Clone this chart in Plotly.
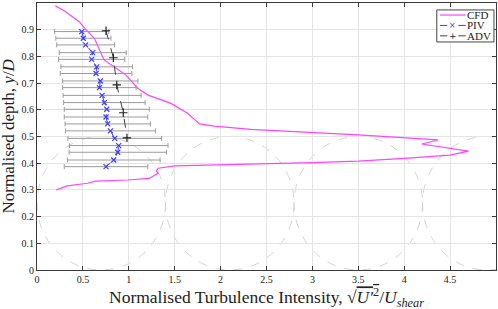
import plotly.graph_objects as go

# CFD profile
cfd_x = [0.20, 0.30, 0.46, 0.52, 0.625, 0.68, 0.73, 0.84, 0.97, 1.10, 1.21, 1.46, 1.64, 1.77, 1.93, 2.33,
         3.50, 4.37, 4.19, 4.70, 4.50, 4.00, 3.50, 3.00, 2.50, 2.33, 1.50, 1.32, 1.30, 1.32, 1.22, 0.99,
         0.64, 0.55, 0.33, 0.21]
cfd_y = [0.99, 0.97, 0.93, 0.905, 0.868, 0.824, 0.787, 0.761, 0.73, 0.68, 0.655, 0.624, 0.587, 0.547,
         0.539, 0.527, 0.506, 0.487, 0.472, 0.445, 0.43, 0.418, 0.408, 0.402, 0.398, 0.397, 0.39, 0.381,
         0.372, 0.362, 0.343, 0.337, 0.333, 0.325, 0.315, 0.30]

# PIV profile with error bars
piv_x = [0.487, 0.505, 0.53, 0.607, 0.596, 0.65, 0.643, 0.69, 0.68, 0.709, 0.734, 0.76, 0.752, 0.77,
         0.80, 0.847, 0.89, 0.88, 0.836, 0.752]
piv_y = [0.893, 0.868, 0.843, 0.814, 0.789, 0.761, 0.736, 0.708, 0.683, 0.654, 0.627, 0.602, 0.573,
         0.547, 0.521, 0.493, 0.466, 0.441, 0.412, 0.387]
piv_err = [0.295, 0.30, 0.315, 0.365, 0.36, 0.39, 0.39, 0.41, 0.40, 0.425, 0.444, 0.463, 0.455, 0.465,
           0.49, 0.51, 0.537, 0.53, 0.505, 0.455]

# ADV profile
adv_x = [0.752, 0.832, 0.869, 0.94, 0.98]
adv_y = [0.896, 0.795, 0.693, 0.589, 0.495]

# Cylinder outlines (dashed circles), centres along x
circle_cx = [0.7, 2.1, 3.5, 4.9]
circle_r_x = 0.7
circle_cy = 0.25
circle_r_y = 0.25

x_ticks = [0, 0.5, 1, 1.5, 2, 2.5, 3, 3.5, 4, 4.5, 5]
y_ticks = [0, 0.1, 0.2, 0.3, 0.4, 0.5, 0.6, 0.7, 0.8, 0.9, 1]

legend_names = ["CFD", "PIV", "ADV"]

FONT = "Liberation Serif"
CFD_C = "#ff44ff"
PIV_C = "#3c3cff"
ADV_C = "#222222"

fig = go.Figure()

for cx in circle_cx:
    fig.add_shape(type="circle", xref="x", yref="y",
                  x0=cx - circle_r_x, x1=cx + circle_r_x,
                  y0=circle_cy - circle_r_y, y1=circle_cy + circle_r_y,
                  line=dict(color="#d4d4d4", width=1, dash="dash"), layer="below")

fig.add_trace(go.Scatter(x=cfd_x, y=cfd_y, mode="lines", name=legend_names[0],
                         line=dict(color=CFD_C, width=1.2)))
fig.add_trace(go.Scatter(x=piv_x, y=piv_y, mode="lines+markers", name=legend_names[1],
                         line=dict(color=PIV_C, width=1, dash="dash"),
                         marker=dict(symbol="x-thin", size=5, color=PIV_C,
                                     line=dict(color=PIV_C, width=1.2)),
                         error_x=dict(type="data", array=piv_err, visible=True,
                                      color="#9a9a9a", thickness=1, width=2.5)))
fig.add_trace(go.Scatter(x=adv_x, y=adv_y, mode="lines+markers", name=legend_names[2],
                         line=dict(color="#444444", width=1, dash="dash"),
                         marker=dict(symbol="cross-thin", size=6, color=ADV_C,
                                     line=dict(color=ADV_C, width=1.2))))

# Manual compact legend (MATLAB style), in paper coordinates
lx0, lx1, ly0, ly1 = 0.871, 0.9956, 0.854, 0.974
fig.add_shape(type="rect", xref="paper", yref="paper", x0=lx0, x1=lx1, y0=ly0, y1=ly1,
              line=dict(color="#444444", width=1), fillcolor="white", layer="above")
rows = [0.955, 0.916, 0.877]
sx0, sx1 = 0.878, 0.934
fig.add_shape(type="line", xref="paper", yref="paper", x0=sx0, x1=sx1, y0=rows[0], y1=rows[0],
              line=dict(color=CFD_C, width=1.2), layer="above")
for r, col in [(rows[1], PIV_C), (rows[2], "#444444")]:
    fig.add_shape(type="line", xref="paper", yref="paper", x0=sx0, x1=sx0 + 0.016, y0=r, y1=r,
                  line=dict(color=col, width=1), layer="above")
    fig.add_shape(type="line", xref="paper", yref="paper", x0=sx1 - 0.016, x1=sx1, y0=r, y1=r,
                  line=dict(color=col, width=1), layer="above")
mid = (sx0 + sx1) / 2
fig.add_annotation(x=mid, y=rows[1], xref="paper", yref="paper", text="×", showarrow=False,
                   font=dict(family="DejaVu Sans", size=8, color=PIV_C), xanchor="center", yanchor="middle")
fig.add_annotation(x=mid, y=rows[2], xref="paper", yref="paper", text="+", showarrow=False,
                   font=dict(family="DejaVu Sans", size=9, color=ADV_C), xanchor="center", yanchor="middle")
for r, name in zip(rows, legend_names):
    fig.add_annotation(x=0.937, y=r, xref="paper", yref="paper", text=name, showarrow=False,
                       font=dict(family=FONT, size=11, color="#222222"),
                       xanchor="left", yanchor="middle", xshift=-2)

axis_common = dict(showline=True, linecolor="#3a3a3a", linewidth=1, mirror="ticks",
                   ticks="inside", ticklen=4, tickcolor="#3a3a3a", automargin=False,
                   showgrid=True, gridcolor="#e4e4e4", gridwidth=1, zeroline=False,
                   tickfont=dict(family=FONT, size=10, color="#222222"))

fig.update_layout(
    width=498, height=309,
    margin=dict(l=37, r=2, t=3, b=39),
    paper_bgcolor="white", plot_bgcolor="white",
    font=dict(family=FONT, color="#222222"),
    xaxis=dict(range=[0, 5], tickvals=x_ticks, ticktext=[f"{v:g}" for v in x_ticks],
               **axis_common),
    yaxis=dict(range=[0, 1], tickvals=y_ticks, ticktext=[f"{v:g}" for v in y_ticks],
               **axis_common),
    showlegend=False,
)

# Axis titles as annotations for precise placement
fig.add_annotation(x=0.5, y=0, xref="paper", yref="paper", yshift=-13, yanchor="top",
                   text="Normalised Turbulence Intensity, √<span style='text-decoration:overline'><i>U′</i><sup>2</sup></span>/<i>U</i><sub><i>shear</i></sub>",
                   showarrow=False, font=dict(family=FONT, size=17.5, color="#222222"))
fig.add_annotation(x=0, y=0.5, xref="paper", yref="paper", xshift=-29, xanchor="center",
                   textangle=-90, text="Normalised depth, <i>y</i>/<i>D</i>",
                   showarrow=False, font=dict(family=FONT, size=17, color="#222222"))

fig.write_html("out.html", config={"displayModeBar": False},
               post_script="document.body.style.margin='0px';document.body.style.overflow='hidden';")
